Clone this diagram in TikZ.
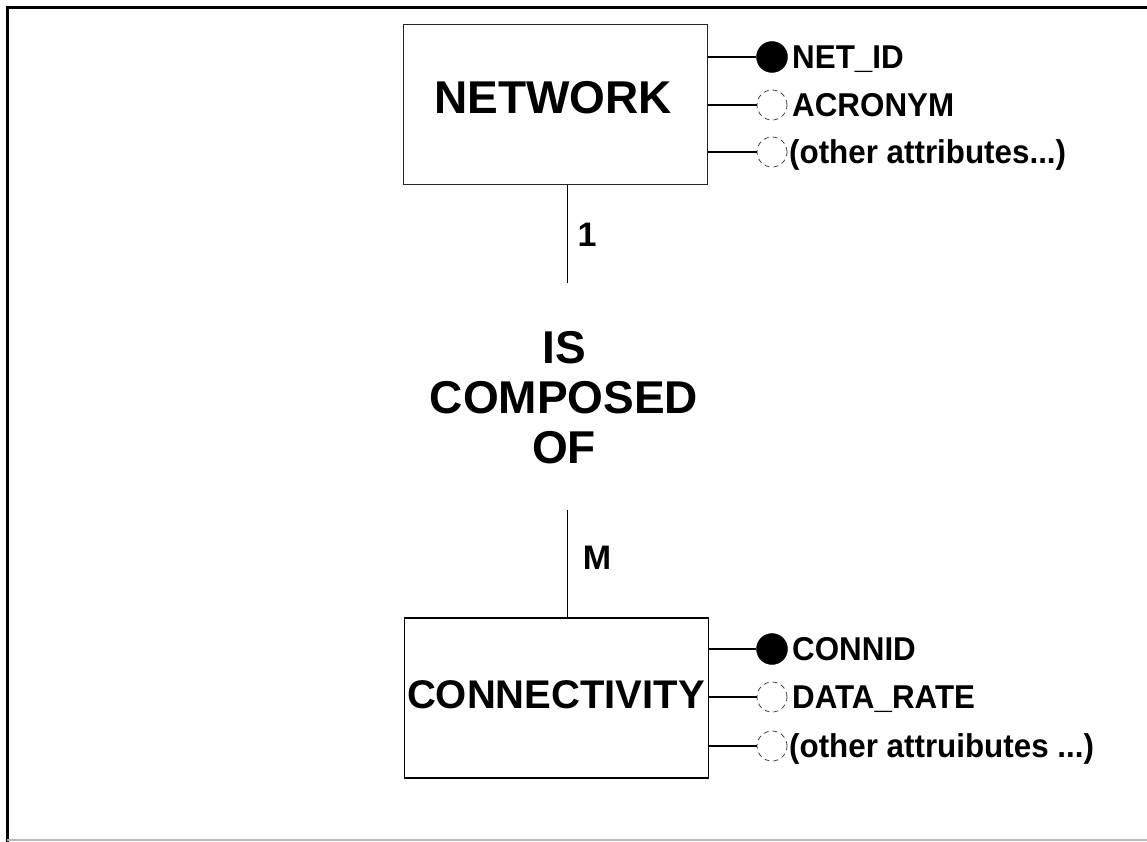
\documentclass[tikz,border=0pt]{standalone}
\usepackage{fontspec}
\setmainfont{Liberation Sans}
\newfontfamily\attrfont[FakeStretch=0.95]{Liberation Sans}
\begin{document}
\begin{tikzpicture}[x=1pt,y=-1pt,
  ent/.style={draw, line width=1.2pt, inner sep=0pt, minimum width=304pt, minimum height=160pt},
  big/.style={font=\bfseries\fontsize{46}{50}\selectfont, inner sep=0pt},
  attr/.style={font=\attrfont\bfseries\fontsize{33}{36}\selectfont, anchor=base west, inner sep=0pt},
  keyc/.style={circle, fill=black, draw=black, minimum size=31pt, inner sep=0pt},
  optc/.style={circle, draw=black!75, dash pattern=on 5pt off 4pt, line width=0.8pt, minimum size=30pt, inner sep=0pt},
  lnk/.style={line width=1.2pt},
  rel/.style={font=\bfseries\fontsize{46}{50}\selectfont, align=center, inner sep=0pt},
  card/.style={font=\bfseries\fontsize{34}{38}\selectfont, inner sep=0pt}]
\useasboundingbox (0,0) rectangle (1147,842);
% frame
\draw[line width=3pt] (1147,8) -- (7,8) -- (7,842);
\draw[gray!55, line width=2pt] (7,840) -- (1147,840);

% NETWORK entity
\node[ent, draw=black!85, line width=1pt] (net) at (555.5,105) {};
\node[big] (netlbl) at (553,98) {NETWORK};
\node[keyc] (n1) at (772,57) {};
\node[optc] (n2) at (772,105) {};
\node[optc] (n3) at (772,152) {};
\node[attr] (n1t) at (792,68.8) {NET\_ID};
\node[attr] (n2t) at (792,116.8) {ACRONYM};
\node[attr] (n3t) at (789,163.8) {(other attributes...)};
\draw[lnk] (net.east |- n1) -- (n1.west);
\draw[lnk] (net.east |- n2) -- (n2.west);
\draw[lnk] (net.east |- n3) -- (n3.west);

% relationship
\node[rel] (rel) at (564,398) {IS\\COMPOSED\\OF};
\coordinate (r1) at (567,283);
\coordinate (r2) at (567,510);
\node[card] (c1) at (587,235) {1};
\node[card] (c2) at (597,558) {M};

% CONNECTIVITY entity
\node[ent] (con) at (556.5,698) {};
\node[font=\bfseries\fontsize{40}{44}\selectfont, inner sep=0pt] (conlbl) at (556,695) {CONNECTIVITY};
\node[keyc] (k1) at (772,649) {};
\node[optc] (k2) at (772,697) {};
\node[optc] (k3) at (772,746) {};
\node[attr] (k1t) at (792,660.8) {CONNID};
\node[attr] (k2t) at (792,708.8) {DATA\_RATE};
\node[attr] (k3t) at (789,757.8) {(other attruibutes ...)};
\draw[lnk] (con.east |- k1) -- (k1.west);
\draw[lnk] (con.east |- k2) -- (k2.west);
\draw[lnk] (con.east |- k3) -- (k3.west);

\draw[lnk, line width=1pt] (net.south -| r1) -- (r1);
\draw[lnk, line width=1pt] (r2) -- (con.north -| r2);
\end{tikzpicture}
\end{document}
